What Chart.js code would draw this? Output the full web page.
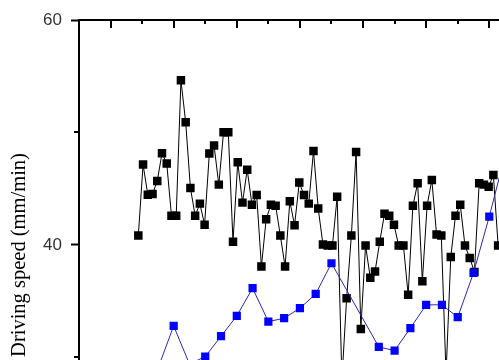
<!DOCTYPE html>
<html><head><meta charset="utf-8">
<script src="https://cdn.jsdelivr.net/npm/chart.js@4.4.1/dist/chart.umd.min.js"></script>
<style>
html,body{margin:0;padding:0;width:499px;height:360px;overflow:hidden;background:#fff;}
#wrap{position:absolute;left:0;top:0;width:560px;height:489px;}
</style></head><body>
<div id="wrap"><canvas id="c" width="560" height="489"></canvas></div>
<script>
// sampling of the black series (time units of the x axis)
const blackStart = 3.76;
const blackStep = 0.3;
const blackSpeed = [
  40.83, 47.14, 44.47, 44.53, 45.69, 48.15, 47.23, 42.6, 42.6, 54.64,
  50.91, 45.07, 42.6, 43.67, 41.8, 48.12, 48.83, 45.36, 50.02, 50.02,
  40.29, 47.35, 43.76, 46.69, 43.58, 44.44, 38.07, 42.28, 43.58, 43.49,
  40.83, 38.07, 43.88, 41.75, 45.54, 44.44, 43.67, 48.36, 43.23, 40.03,
  39.94, 39.94, 44.29, 28.0, 35.26, 40.83, 48.27, 32.53, 39.94, 37.07,
  37.63, 40.29, 42.76, 42.6, 41.8, 39.94, 39.94, 35.56, 43.49, 45.48,
  36.77, 43.49, 45.78, 40.92, 40.83, 28.5, 38.93, 42.6, 43.58, 39.94,
  38.84, 37.6, 45.48, 45.36, 45.18, 46.22, 39.94
];
const blueTime  = [5, 6, 7, 8, 9, 10, 11, 12, 13, 14, 15, 16, 19, 20, 21, 22, 23, 24, 25, 26, 27];
const blueSpeed = [29.0, 32.8, 29.4, 30.07, 31.88, 33.69, 36.15, 33.18, 33.48, 34.37, 35.64, 38.37,
                   30.93, 30.6, 32.6, 34.67, 34.67, 33.57, 37.51, 42.52, 48.0];
const yTicks = [20, 40, 60];
const yMinorTicks = [30, 50];
const xMajorTicks = [2, 6, 10, 14, 18, 22, 26, 30];
const xMinorTicks = [0, 4, 8, 12, 16, 20, 24, 28];
const yTitle = 'Driving speed (mm/min)';

const blackPts = blackSpeed.map((v, i) => ({x: blackStart + i * blackStep, y: v}));
const bluePts = blueTime.map((t, i) => ({x: t, y: blueSpeed[i]}));

const extraTicks = {
  id: 'extraTicks',
  afterDraw(chart) {
    const ctx = chart.ctx, xs = chart.scales.x, ys = chart.scales.y;
    const top = chart.chartArea.top, left = chart.chartArea.left;
    ctx.save();
    ctx.strokeStyle = '#000';
    ctx.lineWidth = 2;
    xMajorTicks.forEach(v => {
      const p = Math.round(xs.getPixelForValue(v));
      ctx.beginPath(); ctx.moveTo(p, top); ctx.lineTo(p, top + 8); ctx.stroke();
    });
    xMinorTicks.forEach(v => {
      const p = Math.round(xs.getPixelForValue(v));
      ctx.beginPath(); ctx.moveTo(p, top); ctx.lineTo(p, top + 4); ctx.stroke();
    });
    yMinorTicks.forEach(v => {
      const p = Math.round(ys.getPixelForValue(v));
      ctx.beginPath(); ctx.moveTo(left, p); ctx.lineTo(left - 5, p); ctx.stroke();
    });
    ctx.fillStyle = '#000';
    ctx.font = '20.5px "Liberation Serif", "Times New Roman", serif';
    ctx.translate(25, 255);
    ctx.rotate(-Math.PI / 2);
    ctx.textAlign = 'center';
    ctx.textBaseline = 'alphabetic';
    ctx.fillText(yTitle, 0, 0);
    ctx.restore();
  }
};

new Chart(document.getElementById('c'), {
  type: 'scatter',
  data: {
    datasets: [
      {
        label: 'blue', data: bluePts, showLine: true, order: 0,
        borderColor: '#2a2aa8', borderWidth: 1,
        pointStyle: 'rect', pointRadius: 5.8,
        pointBackgroundColor: '#0000ff', pointBorderColor: '#0000ff', pointBorderWidth: 0
      },
      {
        label: 'black', data: blackPts, showLine: true, order: 1,
        borderColor: '#000', borderWidth: 1,
        pointStyle: 'rect', pointRadius: 6,
        pointBackgroundColor: '#000', pointBorderColor: '#000', pointBorderWidth: 0
      }
    ]
  },
  options: {
    responsive: false,
    animation: false,
    events: [],
    devicePixelRatio: 1,
    layout: {padding: {left: 0, top: 20, right: 7.6, bottom: 12}},
    plugins: {legend: {display: false}, tooltip: {enabled: false}},
    scales: {
      x: {
        type: 'linear', position: 'top', min: 0, max: 30,
        ticks: {display: false},
        grid: {display: true, drawOnChartArea: false, drawTicks: false},
        border: {display: true, width: 2, color: '#000'}
      },
      y: {
        type: 'linear', min: 20, max: 60,
        afterBuildTicks: s => { s.ticks = yTicks.map(v => ({value: v})); },
        afterFit: s => { s.width = 79; },
        ticks: {
          font: {family: '"Liberation Sans", Arial, sans-serif', size: 17},
          color: '#333', padding: 9,
          callback: v => String(v)
        },
        grid: {drawOnChartArea: false, tickLength: 8, tickWidth: 2, tickColor: '#000'},
        border: {display: true, width: 2, color: '#000'}
      }
    }
  },
  plugins: [extraTicks]
});
</script>
</body></html>
